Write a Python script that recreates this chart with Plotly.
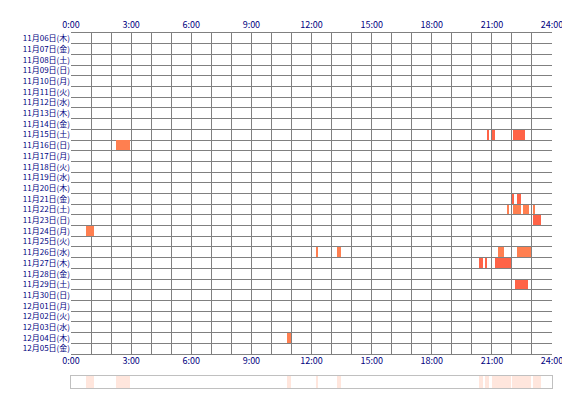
import plotly.graph_objects as go

days = ["11月06日(木)","11月07日(金)","11月08日(土)","11月09日(日)","11月10日(月)","11月11日(火)",
        "11月12日(水)","11月13日(木)","11月14日(金)","11月15日(土)","11月16日(日)","11月17日(月)",
        "11月18日(火)","11月19日(水)","11月20日(木)","11月21日(金)","11月22日(土)","11月23日(日)",
        "11月24日(月)","11月25日(火)","11月26日(水)","11月27日(木)","11月28日(金)","11月29日(土)",
        "11月30日(日)","12月01日(月)","12月02日(火)","12月03日(水)","12月04日(木)","12月05日(金)"]

sess_day = [9, 9, 9, 10, 15, 15, 16, 16, 16, 16, 16, 17, 17, 18, 20, 20, 20, 20, 21, 21, 21, 23, 28]
sess_start = [20.78, 21.03, 22.03, 2.23, 22.03, 22.23, 21.73, 22.07, 22.58, 22.67, 23.04, 23.07, 23.13,
              0.73, 12.24, 13.27, 21.33, 22.24, 20.38, 20.64, 21.18, 22.13, 10.78]
sess_end = [20.83, 21.17, 22.67, 2.93, 22.12, 22.43, 21.84, 22.47, 22.65, 22.85, 23.16, 23.11, 23.44,
            1.13, 12.33, 13.47, 21.58, 22.96, 20.58, 20.78, 21.93, 22.78, 10.98]
sess_color = ["#FF6347"]*3 + ["#FF7F50"] + ["#FF6347"]*2 + ["#FF7F50"]*5 + ["#FF6347"]*2 + \
             ["#FF7F50"]*5 + ["#FF6347"]*4 + ["#FF7F50"]
hour_ticks = list(range(0, 25))
hour_labels = [f"{h}:00" if h % 3 == 0 else "" for h in hour_ticks]

dur = [e - s for s, e in zip(sess_start, sess_end)]
fig = go.Figure()
fig.add_trace(go.Bar(orientation="h", y=[d + 0.5 for d in sess_day], base=sess_start, x=dur,
                     width=0.92, marker=dict(color=sess_color, line_width=0), xaxis="x", yaxis="y"))
fig.add_trace(go.Bar(orientation="h", y=[0.5]*len(dur), base=sess_start, x=dur, width=1,
                     marker=dict(color="#FFA07A", line_width=0), opacity=0.25, xaxis="x2", yaxis="y2"))
font = dict(family="Noto Sans CJK JP", size=9, color="#000080")
yfont = dict(family="Noto Sans CJK JP", size=8, color="#000080")
fig.update_layout(
    width=562, height=384, margin=dict(l=63, r=18, t=25, b=4),
    plot_bgcolor="white", paper_bgcolor="white", showlegend=False, barmode="overlay", bargap=0,
    font=font,
    xaxis=dict(range=[0, 24], side="top", anchor="y", tickvals=hour_ticks, ticktext=hour_labels,
               showgrid=True, gridcolor="#808080", gridwidth=1, ticks="", zeroline=False, automargin=False,
               showline=True, linecolor="#808080", mirror=True, tickfont=font, ticklen=0),
    xaxis3=dict(range=[0, 24], side="bottom", overlaying="x", anchor="y", tickvals=hour_ticks, automargin=False,
                ticktext=hour_labels, showgrid=False, ticks="", zeroline=False, tickfont=font),
    yaxis=dict(range=[30, 0], domain=[0.0958, 1], tickvals=[i + 0.5 for i in range(30)], ticktext=days,
               showgrid=False, zeroline=False, ticks="", tickfont=yfont, automargin=False,
               minor=dict(tickvals=list(range(31)), showgrid=True, gridcolor="#808080", gridwidth=1)),
    xaxis2=dict(range=[0, 24], domain=[0, 1], anchor="y2", showgrid=False, showticklabels=False, automargin=False,
                zeroline=False, showline=True, linecolor="#C0C0C0", mirror=True),
    yaxis2=dict(range=[0, 1], domain=[0, 0.034], showgrid=False, showticklabels=False, automargin=False,
                zeroline=False, showline=True, linecolor="#C0C0C0", mirror=True),
)
fig.add_trace(go.Scatter(x=[0, 24], y=[None, None], xaxis="x3", yaxis="y", showlegend=False))
fig.write_html("out.html")
